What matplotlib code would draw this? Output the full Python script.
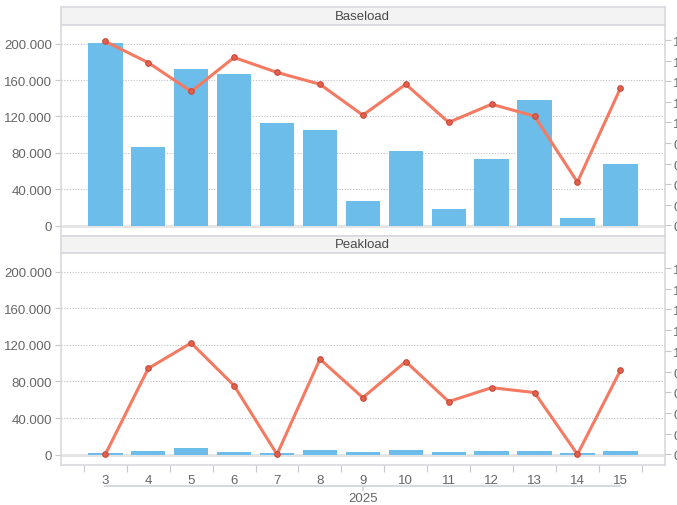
import matplotlib
matplotlib.use("Agg")
import matplotlib.pyplot as plt
import matplotlib.transforms as mtransforms
from matplotlib.ticker import FixedLocator, FuncFormatter

plt.rcParams['font.family'] = ['Liberation Sans', 'DejaVu Sans']

# ---- data ----
weeks = [3, 4, 5, 6, 7, 8, 9, 10, 11, 12, 13, 14, 15]
year_label = "2025"
panel_titles = ["Baseload", "Peakload"]
base_bars = [201000, 87000, 172500, 167000, 112700, 104700, 27000, 82600, 18000, 72800, 138000, 8400, 68000]
base_line = [1.785, 1.58, 1.30, 1.63, 1.485, 1.37, 1.07, 1.37, 1.00, 1.176, 1.06, 0.42, 1.33]
peak_bars = [2000, 4000, 7000, 3300, 2000, 5000, 3300, 5500, 3300, 4000, 4000, 2000, 4000]
peak_line = [0.0, 0.83, 1.076, 0.664, 0.0, 0.92, 0.548, 0.896, 0.51, 0.644, 0.597, 0.0, 0.81]
left_ticks = [0, 40000, 80000, 120000, 160000, 200000]
right_ticks = [0.0, 0.2, 0.4, 0.6, 0.8, 1.0, 1.2, 1.4, 1.6, 1.8]

BAR = '#6cbdea'
LINE = '#f47a62'
MFACE = '#e4604c'
MEDGE = '#c44a3c'
GRID = '#bfbfbf'
FRAME = '#d8d8de'
TXT = '#666666'

W, H = 677, 506
fig = plt.figure(figsize=(W / 100, H / 100), dpi=100)

def fr(x0, y0, x1, y1):
    return [x0 / W, 1 - y1 / H, (x1 - x0) / W, (y1 - y0) / H]

XL, XR = 60.7, 665
panels = [(26, 236.7, 8, 26), (254, 465.7, 236.7, 254)]
datas = [(base_bars, base_line), (peak_bars, peak_line)]

def lfmt(v, p):
    return f"{int(v):,}".replace(",", ".")

def rfmt(v, p):
    return f"{v:.1f}".replace(".", ",")

for i, ((top, bot, st, sb), (bars, line)) in enumerate(zip(panels, datas)):
    # strip
    sax = fig.add_axes(fr(XL, st, XR, sb))
    sax.set_facecolor('#f3f3f3')
    sax.set_xticks([]); sax.set_yticks([])
    for s in sax.spines.values():
        s.set_color(FRAME); s.set_linewidth(1.2)
    sax.text(0.5, 0.5, panel_titles[i], ha='center', va='center', fontsize=9.5,
             color='#4a4a4a', transform=sax.transAxes)

    ax = fig.add_axes(fr(XL, top, XR, bot))
    ax.set_xlim(1.96, 16.04)
    ax.set_ylim(-11000, 220500)
    for s in ax.spines.values():
        s.set_color(FRAME); s.set_linewidth(1.2)
    ax.yaxis.set_major_locator(FixedLocator(left_ticks))
    ax.yaxis.set_major_formatter(FuncFormatter(lfmt))
    ax.tick_params(axis='y', length=4, width=0.8, color='#c8c8c8', pad=2,
                   labelsize=9.5, labelcolor=TXT)
    for t in left_ticks[1:]:
        ax.axhline(t, color=GRID, lw=0.8, ls=(0, (1, 1.5)), zorder=0)
    ax.axhline(0, color='#e4e4e4', lw=2, zorder=1)
    ax.bar(weeks, bars, width=0.8, color=BAR, zorder=2)

    ax2 = ax.twinx()
    ax2.set_ylim(-0.1, 1.945)
    ax2.yaxis.set_major_locator(FixedLocator(right_ticks))
    ax2.yaxis.set_major_formatter(FuncFormatter(rfmt))
    ax2.tick_params(axis='y', length=4, width=0.8, color='#c8c8c8', pad=2,
                    labelsize=9.5, labelcolor=TXT)
    for s in ax2.spines.values():
        s.set_visible(False)
    ax2.plot(weeks, line, color=LINE, lw=2.2, marker='o', ms=4,
             mfc=MFACE, mec=MEDGE, mew=0.8, zorder=3, solid_joinstyle='round')

    if i == 0:
        ax.set_xticks([])
    else:
        ax.set_xticks(weeks)
        ax.set_xticklabels([str(w) for w in weeks])
        ax.set_xticks([w - 0.5 for w in weeks] + [weeks[-1] + 0.5], minor=True)
        ax.tick_params(axis='x', which='major', length=0, pad=7, labelsize=9.5, labelcolor=TXT)
        ax.tick_params(axis='x', which='minor', length=5, width=0.8, color='#c8c8c8')
        trans = mtransforms.blended_transform_factory(ax.transData, ax.transAxes)
        ybr = (465.7 - 487) / (bot - top)
        ax.plot([weeks[0], weeks[-1]], [ybr, ybr], color='#cfd2dc', lw=1.2,
                transform=trans, clip_on=False)
        mid = weeks[len(weeks) // 2]
        ax.plot([mid, mid], [ybr, ybr - 4 / (bot - top)], color='#cfd2dc', lw=1.2,
                transform=trans, clip_on=False)
        ax.text(mid, (465.7 - 499) / (bot - top), year_label, transform=trans,
                ha='center', va='center', fontsize=9.5, color=TXT)

fig.savefig('out.png', dpi=100)
